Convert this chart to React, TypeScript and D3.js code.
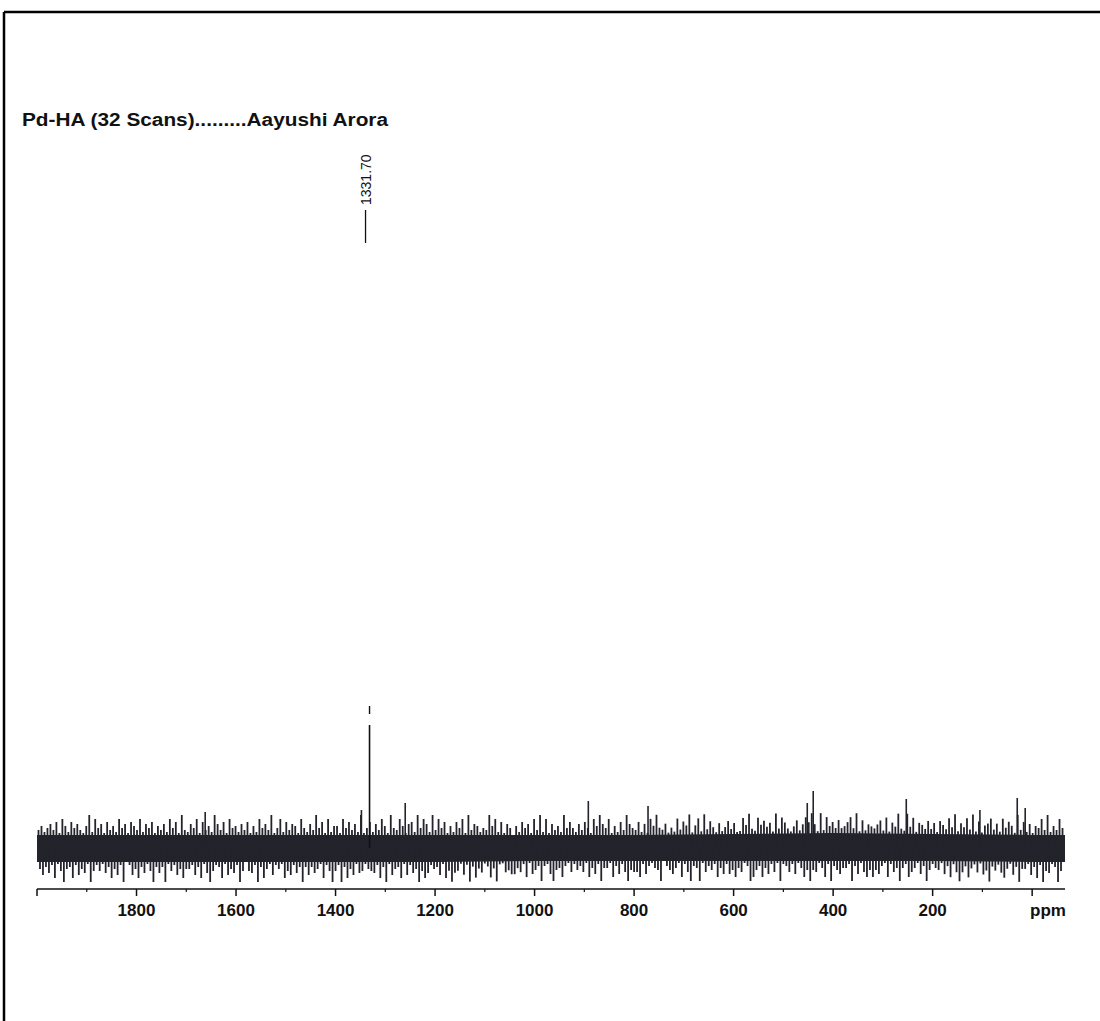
import React from "react";
import * as d3 from "d3";

const TITLE = "Pd-HA (32 Scans).........Aayushi Arora";
const PEAK_LABEL = "1331.70";
const PEAK_PPM = 1331.7;
const PEAK_HEIGHT = 123;
const PEAK_MARK = [134, 142];

const PPM_DOMAIN = [2000, -66];
const MAJOR_TICKS = [2000, 1800, 1600, 1400, 1200, 1000, 800, 600, 400, 200, 0];
const MINOR_TICKS = [1900, 1700, 1500, 1300, 1100, 900, 700, 500, 300, 100];
const TICK_LABELS = [1800, 1600, 1400, 1200, 1000, 800, 600, 400, 200];
const UNIT_LABEL = "ppm";

// noise sampling grid (ppm)
const NOISE_START = 1997;
const NOISE_STEP = 6;
const NOISE_END = -63;

// upper / lower noise spike levels (0-9), read left to right
const NOISE_UP =
  "3524637185274631592846173528461753826471536284719326481735296371845263" +
  "7152846391482736518426394718255184736291472638519438516729486293847152" +
  "7481936524395827164052746183928163529474263741859648152739643726185943" +
  "6142837591582937416247361285932857461938631472586951928463734683917254" +
  "3572816493294816537361753849264839271568362847519372615483925384627519";
const NOISE_DOWN =
  "4736281594382746195251638472902748361593639152748442738169523817462950" +
  "5629384172418572639373641825952938471651456283917438172649586243718596" +
  "5172938461384921657746281753932795483162536184729441837269566827314590" +
  "3574182693491635284727584613985384726192362714859561482935744293716858" +
  "5731826494286417395245173826963842617593526841739441738295613956281748";
// height (px units) added above the core for each level
const LEVEL_HEIGHTS = [0, 2, 3, 5, 7, 9, 11, 13, 16, 20];

// core band half-widths along the spectrum
const CORE_PPM = [2000, 1800, 1600, 1400, 1200, 1000, 800, 600, 400, 200, 0, -66];
const CORE_TOP = [13, 13, 13, 13, 13, 13, 13, 14, 15, 14, 13, 13];
const CORE_BOTTOM = [-14, -14, -14, -14, -14, -13, -13, -13, -13, -13, -14, -14];

// prominent spikes [ppm, height]
const BIG_SPIKES_PPM = [1662, 1348, 1260, 892, 772, 452, 440, 253, 105, 30, 14];
const BIG_SPIKES_H = [36, 38, 45, 47, 42, 45, 57, 49, 38, 50, 40];

const W = 1100;
const H = 1021;

export default function App() {
  const x = d3.scaleLinear().domain(PPM_DOMAIN).range([37, 1065]);
  const y = d3.scaleLinear().domain([-40, 140]).range([888, 708]);
  const coreTop = d3.scaleLinear().domain(CORE_PPM).range(CORE_TOP);
  const coreBot = d3.scaleLinear().domain(CORE_PPM).range(CORE_BOTTOM);

  const n = Math.floor((NOISE_START - NOISE_END) / NOISE_STEP) + 1;
  const up: { p: number; v: number }[] = [];
  const dn: { p: number; v: number }[] = [];
  for (let i = 0; i < n; i++) {
    const p = NOISE_START - i * NOISE_STEP;
    const du = +NOISE_UP[i % NOISE_UP.length];
    const dd = +NOISE_DOWN[i % NOISE_DOWN.length];
    up.push({ p, v: coreTop(p) + LEVEL_HEIGHTS[du] });
    const pd = p - NOISE_STEP / 2;
    if (pd >= NOISE_END) dn.push({ p: pd, v: coreBot(pd) - LEVEL_HEIGHTS[dd] });
  }

  const coreData = CORE_PPM.map((p, i) => ({ p, t: CORE_TOP[i], b: CORE_BOTTOM[i] }));
  const area = d3
    .area<{ p: number; t: number; b: number }>()
    .x((d) => x(d.p))
    .y0((d) => y(d.b))
    .y1((d) => y(d.t));

  const band = "#23232c";
  const axisY = 889;
  const px = x(PEAK_PPM);

  return (
    <svg
      width={W}
      height={H}
      style={{ position: "absolute", left: 0, top: 0, background: "#fff" }}
      fontFamily="'Liberation Sans', Arial, sans-serif"
    >
      <rect x={0} y={0} width={W} height={H} fill="#fff" />
      {/* frame */}
      <line x1={4} y1={12} x2={W} y2={12} stroke="#000" strokeWidth={2.5} />
      <line x1={4} y1={12} x2={4} y2={H} stroke="#000" strokeWidth={2.5} />

      {/* title */}
      <text
        x={22}
        y={126}
        fontSize={18}
        fontWeight="bold"
        fill="#111"
        textLength={366}
        lengthAdjust="spacingAndGlyphs"
      >
        {TITLE}
      </text>

      {/* peak label */}
      <text transform={`translate(${px + 1},205) rotate(-90)`} fontSize={14} fill="#111">
        {PEAK_LABEL}
      </text>
      <line x1={px - 4} y1={210} x2={px - 4} y2={243} stroke="#111" strokeWidth={1.3} />

      {/* noise core */}
      <path d={area(coreData) || ""} fill={band} />
      {up.map((d, i) => (
        <line key={"u" + i} x1={x(d.p)} x2={x(d.p)} y1={y(0)} y2={y(d.v)} stroke={band} strokeWidth={1.8} />
      ))}
      {dn.map((d, i) => (
        <line key={"d" + i} x1={x(d.p)} x2={x(d.p)} y1={y(0)} y2={y(d.v)} stroke={band} strokeWidth={1.8} />
      ))}
      {BIG_SPIKES_PPM.map((p, i) => (
        <line key={"b" + i} x1={x(p)} x2={x(p)} y1={y(0)} y2={y(BIG_SPIKES_H[i])} stroke={band} strokeWidth={1.6} />
      ))}

      {/* main peak */}
      <line x1={px} x2={px} y1={y(0)} y2={y(PEAK_HEIGHT)} stroke="#111" strokeWidth={1.6} />
      <line x1={px} x2={px} y1={y(PEAK_MARK[0])} y2={y(PEAK_MARK[1])} stroke="#111" strokeWidth={1.4} />

      {/* axis */}
      <line x1={x(PPM_DOMAIN[0])} x2={x(PPM_DOMAIN[1])} y1={axisY} y2={axisY} stroke="#111" strokeWidth={1.5} />
      {MAJOR_TICKS.map((t) => (
        <line key={"M" + t} x1={x(t)} x2={x(t)} y1={axisY} y2={axisY + 7} stroke="#111" strokeWidth={1.5} />
      ))}
      {MINOR_TICKS.map((t) => (
        <line key={"m" + t} x1={x(t)} x2={x(t)} y1={axisY} y2={axisY + 3} stroke="#111" strokeWidth={1.2} />
      ))}
      {TICK_LABELS.map((t) => (
        <text key={"l" + t} x={x(t)} y={916} fontSize={17} fontWeight="bold" textAnchor="middle" fill="#111">
          {t}
        </text>
      ))}
      <text x={1048} y={916} fontSize={17} fontWeight="bold" textAnchor="middle" fill="#111">
        {UNIT_LABEL}
      </text>
    </svg>
  );
}
